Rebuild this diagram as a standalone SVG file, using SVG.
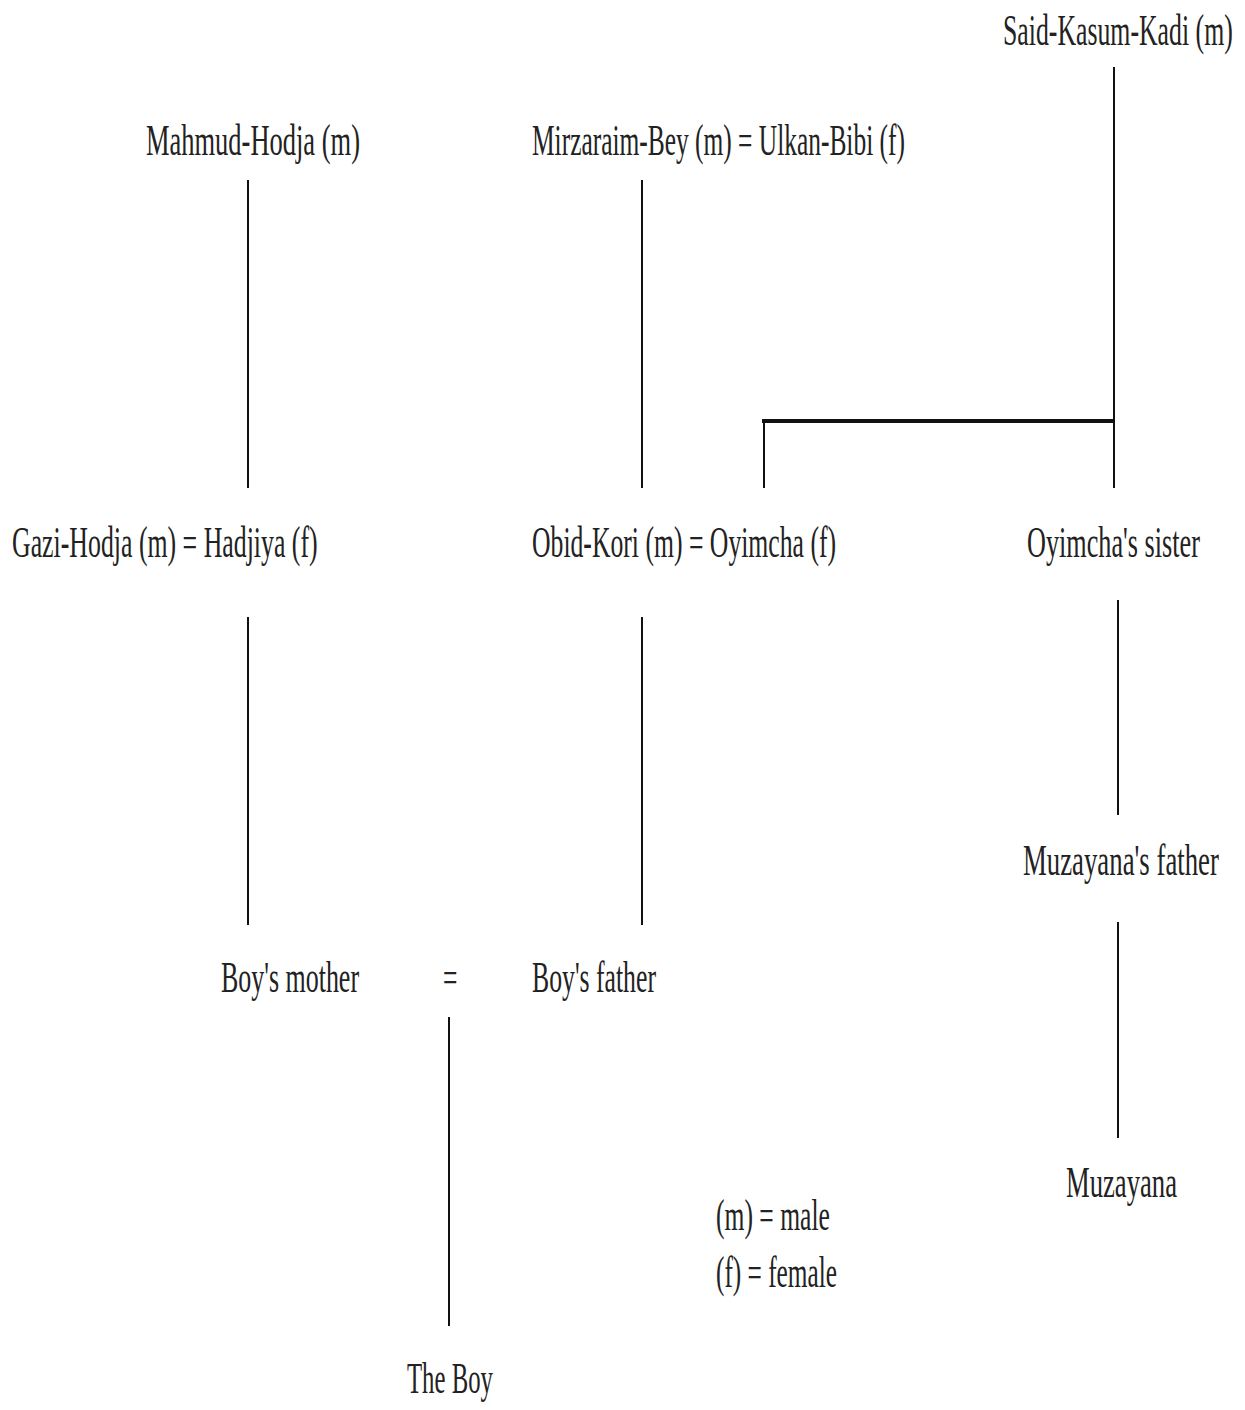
<svg xmlns="http://www.w3.org/2000/svg" width="1245" height="1410" viewBox="0 0 1245 1410">
<style>
text{font-family:"Liberation Serif","Times New Roman",serif;font-size:44px;fill:#222}
.ln{stroke:#111;stroke-width:2;fill:none}
.thick{stroke:#111;stroke-width:4;fill:none}
</style>
<rect width="1245" height="1410" fill="#fff"/>
<g id="connectors">
<line class="ln" x1="1114" y1="67" x2="1114" y2="488"/>
<line class="thick" x1="762" y1="421" x2="1115" y2="421"/>
<line class="ln" x1="764" y1="420" x2="764" y2="488"/>
<line class="ln" x1="248" y1="180" x2="248" y2="488"/>
<line class="ln" x1="642" y1="180" x2="642" y2="488"/>
<line class="ln" x1="248" y1="617" x2="248" y2="925"/>
<line class="ln" x1="642" y1="617" x2="642" y2="925"/>
<line class="ln" x1="1118" y1="600" x2="1118" y2="815"/>
<line class="ln" x1="1118" y1="922" x2="1118" y2="1138"/>
<line class="ln" x1="449" y1="1017" x2="449" y2="1326"/>
</g>
<g id="said"><text transform="translate(1003,45) scale(0.586,1)">Said-Kasum-Kadi (m)</text></g>
<g id="mahmud"><text transform="translate(146,155) scale(0.602,1)">Mahmud-Hodja (m)</text></g>
<g id="mirzaraim"><text transform="translate(532,155) scale(0.578,1)">Mirzaraim-Bey (m) = Ulkan-Bibi (f)</text></g>
<g id="gazi"><text transform="translate(12,557) scale(0.587,1)">Gazi-Hodja (m) = Hadjiya (f)</text></g>
<g id="obid"><text transform="translate(532,557) scale(0.584,1)">Obid-Kori (m) = Oyimcha (f)</text></g>
<g id="sister"><text transform="translate(1027,557) scale(0.596,1)">Oyimcha's sister</text></g>
<g id="muzfather"><text transform="translate(1023,875) scale(0.609,1)">Muzayana's father</text></g>
<g id="muzayana"><text transform="translate(1066,1197) scale(0.606,1)">Muzayana</text></g>
<g id="mother"><text transform="translate(221,992) scale(0.59,1)">Boy's mother</text></g>
<g id="marriage"><text transform="translate(443,992) scale(0.58,1)">=</text></g>
<g id="father"><text transform="translate(532,992) scale(0.585,1)">Boy's father</text></g>
<g id="boy"><text transform="translate(407,1393) scale(0.563,1)">The Boy</text></g>
<g id="legend">
<text transform="translate(716,1230) scale(0.582,1)">(m) = male</text>
<text transform="translate(716,1287) scale(0.575,1)">(f) = female</text>
</g>
</svg>
